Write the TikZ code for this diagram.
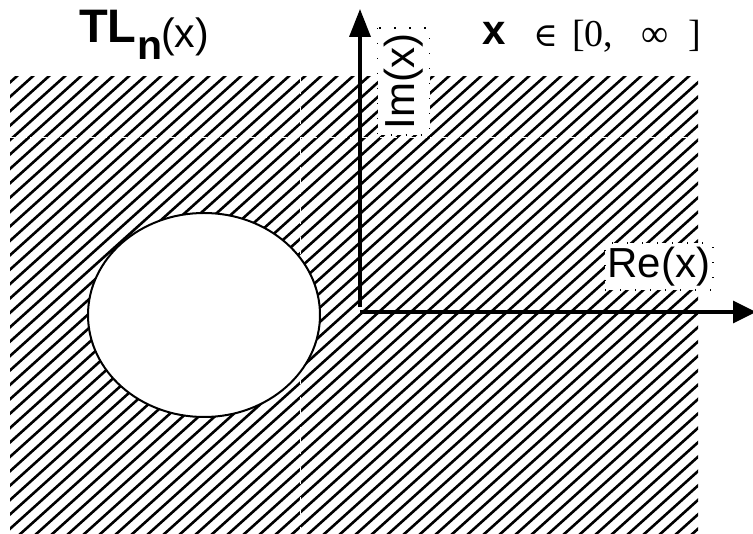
\documentclass[tikz,border=0pt]{standalone}
\usepackage{fontspec}
\setmainfont{Liberation Sans}
\newfontfamily\serifont{Liberation Serif}
\newfontfamily\symfont{DejaVu Serif}
\newfontfamily\boldsans{Liberation Sans Bold}
\usetikzlibrary{arrows.meta,shapes.geometric}
\tikzset{
  hatch/.style={line width=2.6pt, black},
  seam/.style={white, line width=0.9pt, dash pattern=on 7pt off 3pt},
  axisline/.style={line width=3.5pt, black},
  dotbox/.style={draw=black, fill=white, line width=1.3pt, dash pattern=on 1.3pt off 13.7pt, inner sep=0pt},
  lbl/.style={font=\fontsize{42}{44}\selectfont},
}
\begin{document}
\begin{tikzpicture}[x=1pt,y=-1pt]
\useasboundingbox (0,0) rectangle (753,534);
% hatched region
\begin{scope}
\clip (10,77) rectangle (698,534);
\foreach \i in {0,...,82} {
  \draw[hatch] (-600+\i*16,545) -- ++(560,-504);
}
\draw[seam] (300,77) -- (300,534);
\draw[seam] (10,137) -- (698,137);
\end{scope}
% hole
\node[ellipse, draw, fill=white, line width=2pt, minimum width=232pt, minimum height=204pt, inner sep=0pt] (hole) at (204,315) {};
% axes
\coordinate (ybot) at (360,307);
\coordinate (ytop) at (360,9);
\coordinate (xleft) at (360,312);
\coordinate (xtip) at (756,312);
\draw[axisline, -{Triangle[length=28pt,width=21pt]}] (ybot) -- (ytop);
\draw[axisline, -{Triangle[length=23pt,width=22pt]}] (xleft) -- (xtip);
% axis labels
\node[dotbox, lbl, rotate=90, minimum width=107pt, minimum height=52pt] (im) at (403.5,81.5) {Im(x)};
\node[dotbox, lbl, minimum width=108pt, minimum height=47pt] (re) at (659,266.5) {Re(x)};
% title
\node[anchor=base west, inner sep=0pt] (tl) at (79,43) {\fontsize{47}{48}\boldsans TL};
\node[anchor=base west, inner sep=0pt] (n) at (137,60) {\fontsize{41}{41}\boldsans n};
\node[anchor=base west, inner sep=0pt] (tx) at (161,48) {\fontsize{41}{41}\selectfont (x)};
% domain
\node[anchor=base, inner sep=0pt] (bx) at (494,45) {\fontsize{42}{42}\boldsans x};
\node[anchor=base, inner sep=0pt] (in) at (545.5,47) {\fontsize{33}{33}\symfont ∈};
\node[anchor=base west, inner sep=0pt] (iv) at (572,47) {\fontsize{38}{38}\serifont [0,};
\node[anchor=base, inner sep=0pt] (inf) at (655.5,47) {\fontsize{38}{38}\serifont ∞};
\node[anchor=base east, inner sep=0pt] (rb) at (701,47) {\fontsize{38}{38}\serifont ]};
\end{tikzpicture}
\end{document}
